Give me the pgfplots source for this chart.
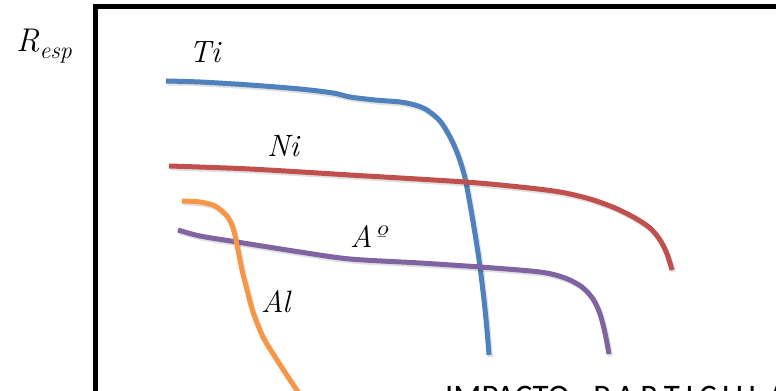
\documentclass[border=0pt]{standalone}
\usepackage{fontspec}
\usepackage{pgfplots}
\pgfplotsset{compat=1.18}
\newfontfamily\calib{Carlito}

\definecolor{tiblue}{HTML}{4F81BD}
\definecolor{nired}{HTML}{C0504D}
\definecolor{acpurple}{HTML}{8064A2}
\definecolor{alorange}{HTML}{F79646}

\newcommand{\lbl}{\fontsize{31}{36}\selectfont\itshape}

% Curves in picture units (1 unit = 1bp), y measured upwards
\pgfplotstableread{
x y
166 310
200 309
250 306
300 302
333 298
350 294
375 291
400 289
415 286
427 281
440 270
450 254
458 236
465 213
471 181
476 151
480 124
484 91
487 61
489 36
}\ti
\pgfplotstableread{
x y
169 225
250 222
350 216
465 209
520 204
560 199
590 192
615 183
635 173
650 163
660 151
667 137
672 121
}\ni
\pgfplotstableread{
x y
178 161
200 155
237 149
300 139
350 132
420 128
480 124
540 119
565 113
582 104
593 92
600 77
605 58
609 37
}\acero
\pgfplotstableread{
x y
182 190
200 189
215 185
227 175
233 163
237 146
242 121
247 101
253 79
263 54
277 31
290 11
300 -4
304 -12
}\al

\begin{document}
\begin{tikzpicture}
\begin{axis}[
  at={(0,0)}, anchor=south west,
  scale only axis, width=776bp, height=391bp,
  xmin=0, xmax=776, ymin=0, ymax=391,
  hide axis, clip=true,
  every axis plot/.append style={
    line width=5bp, smooth, tension=0.5, no markers, line cap=butt,
    preaction={draw, black, opacity=0.12, line width=5bp,
      transform canvas={xshift=1.5bp, yshift=-2bp}}},
]
\coordinate (SW) at (axis cs:0,0);
\coordinate (NE) at (axis cs:776,391);
% frame
\draw[line width=5bp, line join=miter] (axis cs:95,-20) -- (axis cs:95,384.5) -- (axis cs:820,384.5);

\addplot[tiblue] table {\ti};
\addplot[nired] table {\ni};
\addplot[acpurple] table {\acero};
\addplot[alorange] table {\al};

\node[anchor=base west, inner sep=0pt, font=\lbl] at (axis cs:189,328) {Ti};
\node[anchor=base west, inner sep=0pt, font=\lbl] at (axis cs:267,234) {Ni};
\node[anchor=base west, inner sep=0pt, font=\lbl] at (axis cs:350,143) {Aº};
\node[anchor=base west, inner sep=0pt, font=\lbl] at (axis cs:261,78) {Al};
\node[anchor=base west, inner sep=0pt, font=\fontsize{33}{38}\selectfont\itshape] at (axis cs:16,339)
  {R\raisebox{-7bp}{\fontsize{24}{28}\selectfont\itshape esp}};
\node[anchor=base west, inner sep=0pt, font=\calib\fontsize{33}{38}\selectfont] at (axis cs:445,-16)
  {IMPACTO\hspace{24bp}P\,A\,R\,T\,I\,C\,U\,L\,A\,S};
\end{axis}
\pgfresetboundingbox
\useasboundingbox (SW) rectangle (NE);
\end{tikzpicture}
\end{document}
